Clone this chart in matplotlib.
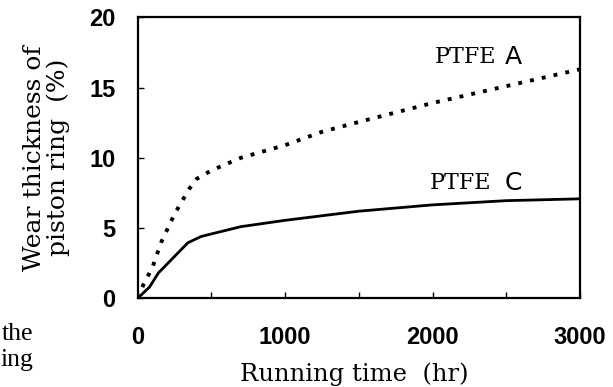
import matplotlib
matplotlib.use("Agg")
import matplotlib.pyplot as plt

# Data
ptfe_a_time = [0, 40, 100, 160, 250, 350, 400, 500, 700, 850, 1000, 1250, 1500, 2000, 2500, 3000]
ptfe_a_wear = [0, 1.0, 2.2, 4.0, 6.0, 7.8, 8.5, 9.1, 10.0, 10.45, 10.9, 11.85, 12.55, 13.9, 15.1, 16.3]

ptfe_c_time = [0, 80, 140, 340, 430, 700, 1000, 1500, 2000, 2500, 3000]
ptfe_c_wear = [0, 0.8, 1.8, 3.95, 4.4, 5.1, 5.55, 6.2, 6.65, 6.95, 7.08]

x_ticks = [0, 1000, 2000, 3000]
x_minor = [500, 1500, 2500]
y_ticks = [0, 5, 10, 15, 20]

SERIF = "DejaVu Serif"
SANS = "Liberation Sans"

fig = plt.figure(figsize=(6.13, 3.87), dpi=100)
W, H = 613, 387
ax = fig.add_axes([137.7 / W, 1 - 298.3 / H, (580 - 137.7) / W, (298.3 - 17.3) / H])

ax.plot(ptfe_a_time, ptfe_a_wear, color="black", lw=2.8,
        linestyle=(0, (1, 2.1)), dash_capstyle="butt")
ax.plot(ptfe_c_time, ptfe_c_wear, color="black", lw=2.0, solid_joinstyle="round")

ax.set_xlim(0, 3000)
ax.set_ylim(0, 20)
ax.set_xticks(x_ticks)
ax.set_xticks(x_minor, minor=True)
ax.set_yticks(y_ticks)
ax.set_xticklabels([str(v) for v in x_ticks], fontfamily=SANS, fontweight="bold", fontsize=17)
ax.set_yticklabels([str(v) for v in y_ticks], fontfamily=SANS, fontweight="bold", fontsize=17)
ax.tick_params(axis="x", which="both", direction="in", length=4, width=1, pad=20)
ax.tick_params(axis="y", which="both", direction="in", length=4, width=1, pad=16)
for s in ax.spines.values():
    s.set_linewidth(1.6)

ax.set_xlabel("Running time  (hr)", fontfamily=SERIF, fontsize=17.5, labelpad=10)
ax.xaxis.set_label_coords(0.489, -0.23)
ax.set_ylabel("Wear thickness of\npiston ring  (%)", fontfamily=SERIF, fontsize=18,
              linespacing=1.0, labelpad=14)

ax.text(2017, 17.17, "PTFE", fontfamily=SERIF, fontsize=16, va="center", ha="left")
ax.text(2492, 17.17, "A", fontfamily="DejaVu Sans", fontsize=18, va="center", ha="left")
ax.text(1983, 8.2, "PTFE", fontfamily=SERIF, fontsize=16, va="center", ha="left")
ax.text(2492, 8.2, "C", fontfamily="DejaVu Sans", fontsize=18, va="center", ha="left")

# text from the neighbouring column at the left edge
fig.text(33 / W, 1 - 334 / H, "the", fontfamily="Liberation Serif", fontsize=18.5, ha="right", va="center")
fig.text(33 / W, 1 - 360 / H, "ing", fontfamily="Liberation Serif", fontsize=18.5, ha="right", va="center")

fig.savefig("out.png", dpi=100)
